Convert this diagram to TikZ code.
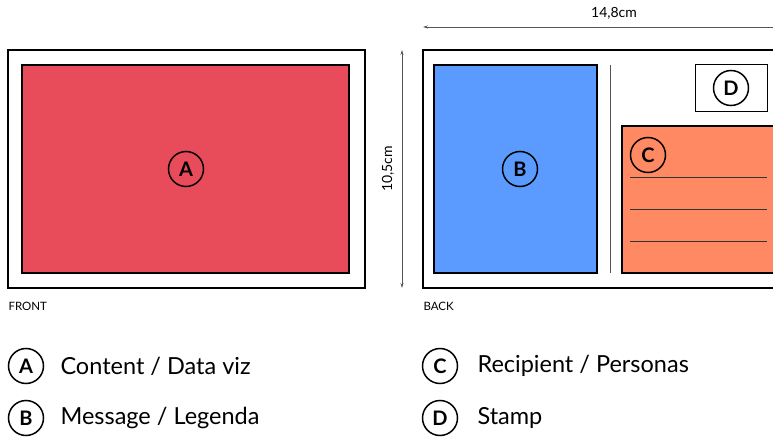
\documentclass[tikz,border=0pt]{standalone}
\usepackage{fontspec}
\setmainfont{Lato}
\usetikzlibrary{arrows.meta}
\definecolor{cardred}{RGB}{232,76,90}
\definecolor{cardblue}{RGB}{91,155,255}
\definecolor{cardorange}{RGB}{255,137,98}
\definecolor{dimgray}{RGB}{85,85,85}

\tikzset{
  badge/.style={circle,draw=black,line width=1.5pt,minimum size=35pt,inner sep=0pt,font=\fontsize{20}{20}\selectfont\bfseries},
  caption/.style={anchor=west,font=\fontsize{23.5}{23.5}\selectfont},
  side/.style={anchor=west,font=\fontsize{11.5}{11.5}\selectfont},
  dim/.style={dimgray,line width=0.9pt,{Stealth[length=5pt,width=3pt]}-},
}

\begin{document}
\begin{tikzpicture}[x=1pt,y=-1pt]
        \useasboundingbox (0,0) rectangle (773,438);
        \clip (0,0) rectangle (773,438);
        % front side
        \draw[line width=1.6pt] (8,50) rectangle (365,288);
        \draw[line width=1.4pt,fill=cardred] (22,65) rectangle (349,273);
        \node[badge] (a) at (186,169) {A};
        \node[side] (front) at (5,306) {FRONT};

        % back side
        \draw[line width=1.6pt] (423,50) rectangle (790,288);
        \draw[line width=1.4pt,fill=cardblue] (434,65) rectangle (597,273);
        \node[badge] (b) at (520,169) {B};
        \draw[line width=0.8pt,dimgray] (610,65) -- (610,273);
        % stamp
        \draw[line width=0.8pt,fill=white] (695,64) rectangle (767,111);
        \node[badge] (d) at (731,88) {D};
        % address
        \draw[line width=1.4pt,fill=cardorange] (622,126) rectangle (790,273);
        \node[badge] (c) at (648,155) {C};
        \foreach \y in {177,209,241}
            \draw[line width=0.8pt,black!80] (630,\y) -- (767,\y);
        \node[side] (back) at (420,306) {BACK};

        % dimensions
        \coordinate (wl) at (423,27);
        \coordinate (wr) at (790,27);
        \draw[dim] (wl) -- (wr);
        \node[font=\fontsize{14}{14}\selectfont] (w) at (614,13) {14,8cm};
        \coordinate (ht) at (402,50);
        \coordinate (hb) at (402,288);
        \draw[dim,{Stealth[length=5pt,width=3pt]}-{Stealth[length=5pt,width=3pt]}] (ht) -- (hb);
        \node[rotate=90,font=\fontsize{14}{14}\selectfont] (h) at (388,169) {10,5cm};

        % legend
        \node[badge] (la) at (26,366) {A};
        \node[caption] (ta) at (57,366) {Content / Data viz};
        \node[badge] (lb) at (26,418) {B};
        \node[caption] (tb) at (57,418) {Message / Legenda};
        \node[badge] (lc) at (440,366) {C};
        \node[caption] (tc) at (474,366) {Recipient / Personas};
        \node[badge] (ld) at (440,418) {D};
        \node[caption] (td) at (474,418) {Stamp};
    \end{tikzpicture}
\end{document}
